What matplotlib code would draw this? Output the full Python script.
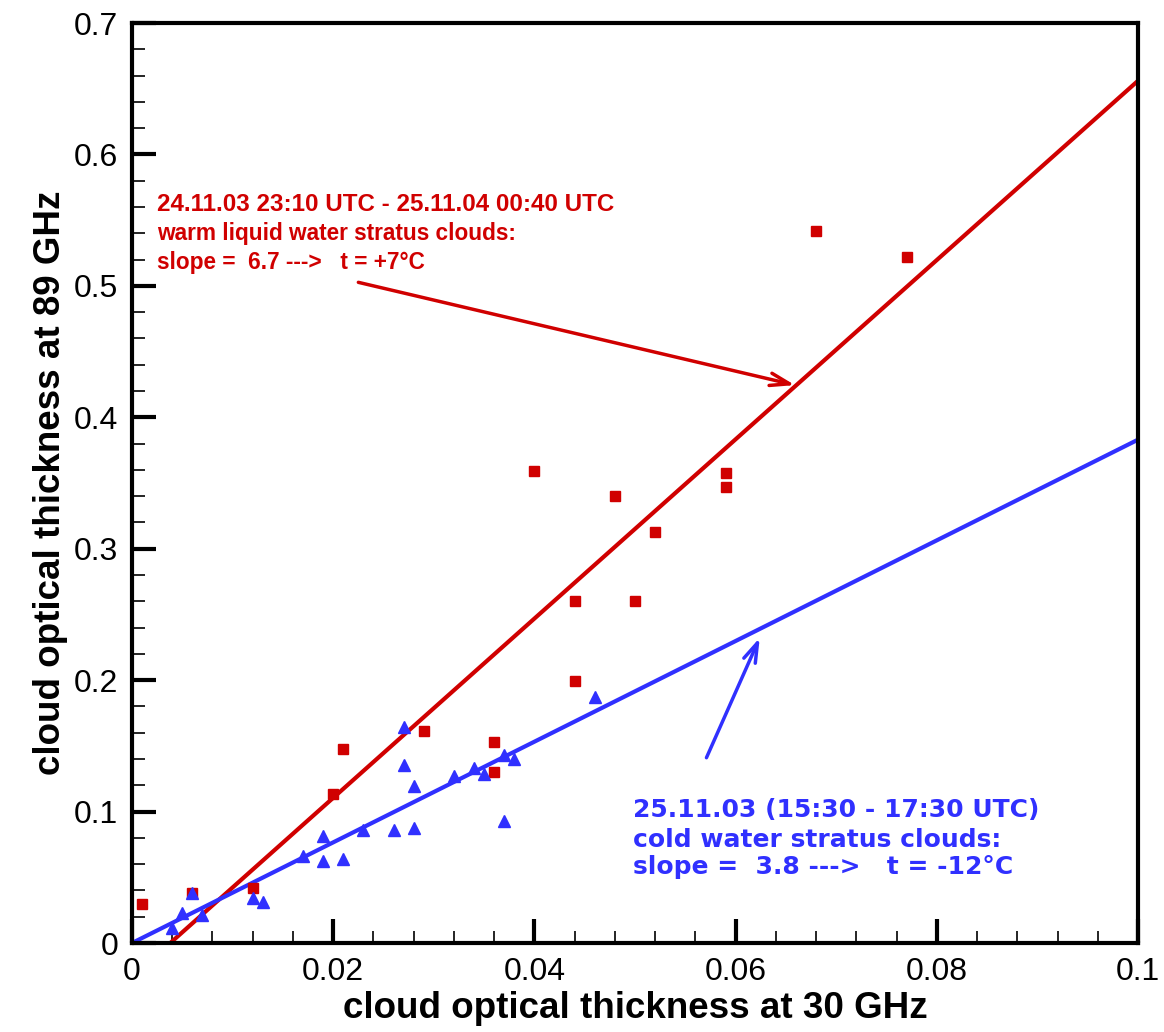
import numpy as np
import matplotlib
matplotlib.use('agg')
from matplotlib import pyplot as plt
from matplotlib.ticker import MultipleLocator, FormatStrFormatter

plt.rcParams['font.family'] = ['Liberation Sans', 'DejaVu Sans']

# warm stratus (red squares)
warm_x = [0.001, 0.006, 0.012, 0.020, 0.021, 0.029, 0.036, 0.036, 0.044, 0.044,
          0.040, 0.048, 0.052, 0.050, 0.059, 0.059, 0.068, 0.077]
warm_y = [0.030, 0.038, 0.042, 0.1135, 0.148, 0.1615, 0.153, 0.130, 0.1995, 0.260,
          0.3595, 0.340, 0.313, 0.260, 0.358, 0.347, 0.5415, 0.5217]

# cold stratus (blue triangles)
cold_x = [0.004, 0.005, 0.006, 0.007, 0.012, 0.013, 0.017, 0.019, 0.019, 0.021,
          0.023, 0.026, 0.027, 0.027, 0.028, 0.028, 0.032, 0.034, 0.035, 0.037,
          0.037, 0.038, 0.046]
cold_y = [0.0115, 0.023, 0.038, 0.021, 0.034, 0.031, 0.066, 0.0815, 0.0625, 0.064,
          0.086, 0.086, 0.1355, 0.1645, 0.1195, 0.0876, 0.127, 0.133, 0.1285, 0.093,
          0.143, 0.140, 0.187]

# fitted lines: slope, x-intercept
warm_fit = (6.82, 0.0038)
cold_fit = (3.83, 0.0)

warm_text = ['24.11.03 23:10 UTC - 25.11.04 00:40 UTC',
             'warm liquid water stratus clouds:',
             'slope =  6.7 --->   t = +7°C']
warm_text_y = [0.562, 0.540, 0.518]
cold_text = ['25.11.03 (15:30 - 17:30 UTC)',
             'cold water stratus clouds:',
             'slope =  3.8 --->   t = -12°C']
cold_text_y = [0.1013, 0.0784, 0.0579]

red = '#D00000'
blue = '#3030FF'

fig = plt.figure(figsize=(11.64, 10.32), dpi=100)
ax = fig.add_axes([0.1134, 0.0862, 0.8643, 0.8915])

xx = np.linspace(warm_fit[1], 0.1, 50)
ax.plot(xx, warm_fit[0]*(xx-warm_fit[1]), color=red, lw=3, zorder=2)
xx = np.linspace(cold_fit[1], 0.1, 50)
ax.plot(xx, cold_fit[0]*(xx-cold_fit[1]), color=blue, lw=3, zorder=2)

ax.plot(warm_x, warm_y, 's', color=red, ms=7.5, zorder=3)
ax.plot(cold_x, cold_y, '^', color=blue, ms=8.5, zorder=3)

ax.annotate('', xy=(0.0659, 0.4245), xytext=(0.0225, 0.5027),
            arrowprops=dict(arrowstyle='->,head_length=1.4,head_width=0.45', color=red, lw=2.5,
                            shrinkA=0, shrinkB=0))
ax.annotate('', xy=(0.0624, 0.2323), xytext=(0.0571, 0.141),
            arrowprops=dict(arrowstyle='->,head_length=1.4,head_width=0.45', color=blue, lw=2.5,
                            shrinkA=0, shrinkB=0))

for i, (s, yv) in enumerate(zip(warm_text, warm_text_y)):
    ax.text(0.0025, yv, s, color=red, fontsize=17.4 if i == 0 else 16.3,
            fontweight='bold', va='center')
for s, yv in zip(cold_text, cold_text_y):
    ax.text(0.0498, yv, s, color=blue, fontsize=18, family='DejaVu Sans',
            fontweight='bold', va='center')

ax.set_xlim(0, 0.1)
ax.set_ylim(0, 0.7)
ax.xaxis.set_major_locator(MultipleLocator(0.02))
ax.xaxis.set_minor_locator(MultipleLocator(0.004))
ax.yaxis.set_major_locator(MultipleLocator(0.1))
ax.yaxis.set_minor_locator(MultipleLocator(0.02))
ax.xaxis.set_major_formatter(FormatStrFormatter('%g'))
ax.yaxis.set_major_formatter(FormatStrFormatter('%g'))
ax.tick_params(which='major', direction='in', length=17, width=3, labelsize=23, pad=10)
ax.tick_params(which='minor', direction='in', length=9, width=1.2)
for s in ['left', 'bottom', 'top', 'right']:
    ax.spines[s].set_linewidth(3)

ax.set_xlabel('cloud optical thickness at 30 GHz', fontsize=26.5, fontweight='bold', labelpad=3)
ax.set_ylabel('cloud optical thickness at 89 GHz', fontsize=26.5, fontweight='bold', labelpad=4)

plt.savefig('out.png', dpi=100)
